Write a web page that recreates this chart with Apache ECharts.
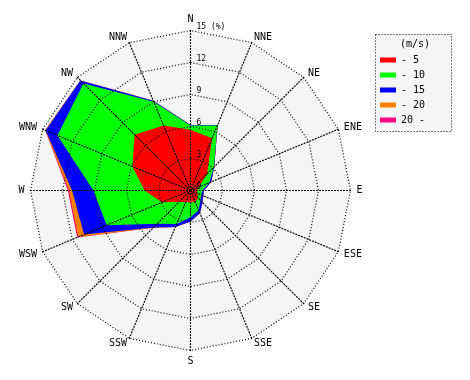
<!DOCTYPE html>
<html>
<head>
<meta charset="utf-8">
<script src="https://cdn.jsdelivr.net/npm/echarts@6/dist/echarts.min.js"></script>
<style>html,body{margin:0;padding:0;background:#fff;}#c{width:470px;height:380px;}</style>
</head>
<body>
<div id="c"></div>
<script>
// compass directions, clockwise from north
var directions = ['N','NNE','NE','ENE','E','ESE','SE','SSE','S','SSW','SW','WSW','W','WNW','NW','NNW'];
// frequency (%) per speed class and direction (same order as directions)
var spd0to5   = [5.7, 5.3, 2.2, 0.8, 0.6, 0.7, 1.0, 1.2, 1.1, 1.2, 1.5, 2.9, 4.3, 5.9, 7.4, 6.6];
var spd5to10  = [0.4, 1.3, 0.9, 1.1, 0.5, 0.4, 0.3, 0.8, 1.4, 2.2, 2.9, 5.6, 4.8, 7.6, 6.8, 2.4];
var spd10to15 = [0.05,0.05,0.05,0.2, 0.15,0.2, 0.3, 0.3, 0.4, 0.3, 0.5, 2.3, 2.0, 1.2, 0.4, 0.1];
var spd15to20 = [0,   0,   0,   0,   0,   0,   0,   0,   0,   0,   0.05,0.6, 0.3, 0.05,0,   0];
var spd20up   = [0,   0,   0,   0,   0,   0,   0,   0,   0,   0,   0,   0.1, 0.1, 0,   0,   0];
var classNames  = ['- 5', '- 10', '- 15', '- 20', '20 -'];
var classColors = ['#ff0000', '#00ff00', '#0000ff', '#ff8000', '#ff0080'];
var radialTicks = [0, 3, 6, 9, 12, 15];
var radialMax = 15;
var radialUnit = '(%)';
var legendTitle = '(m/s)';

var classes = [spd0to5, spd5to10, spd10to15, spd15to20, spd20up];
// cumulative (stacked) totals
var cum = [];
var run = directions.map(function(){return 0;});
classes.forEach(function(arr){
  run = run.map(function(v,i){return v + arr[i];});
  cum.push(run.slice());
});
// radar places indicators counter-clockwise: reorder
var ccwIdx = [0];
for (var k = directions.length - 1; k >= 1; k--) ccwIdx.push(k);
function ccw(arr){ return ccwIdx.map(function(i){return arr[i];}); }

var FONT = 'DejaVu Sans Mono';
var CX = 190.5, CY = 190.5, R = 160;
var indicator = ccw(directions).map(function(d){ return {name:d, min:0, max:radialMax}; });
var dotted = {color:'#000', width:1.2, type:[1,2]};

var series = [];
for (var c = classes.length - 1; c >= 0; c--) {
  series.push({
    type:'radar', name: classNames[c], radarIndex:0, z:2,
    symbol:'none', silent:true,
    lineStyle:{width:0, opacity:0, color: classColors[c]},
    itemStyle:{color: classColors[c]},
    areaStyle:{color: classColors[c], opacity:1},
    data:[{value: ccw(cum[c]), name: classNames[c]}]
  });
}

var chart = echarts.init(document.getElementById('c'));
chart.setOption({
  animation:false,
  backgroundColor:'#ffffff',
  title:{text:legendTitle, left:400, top:39, padding:0,
    textStyle:{fontFamily:FONT, fontSize:10, fontWeight:'normal', color:'#000'}},
  legend:{
    data: classNames.slice(), orient:'vertical', left:380, top:55, padding:0,
    itemWidth:16, itemHeight:5, itemGap:5, icon:'rect', selectedMode:false, z:10,
    textStyle:{fontFamily:FONT, fontSize:10, color:'#000'}
  },
  graphic:[{type:'rect', left:375, top:34, z:1, shape:{width:76, height:97},
    style:{fill:'#f5f5f5', stroke:'#000', lineWidth:1, lineDash:[1,2]}}],
  radar:[{
    center:[CX,CY], radius:R, startAngle:90, shape:'polygon', splitNumber:5,
    indicator: indicator, z:0,
    axisName:{show:false}, axisLine:{show:false}, splitLine:{show:false},
    splitArea:{show:true, areaStyle:{color:['#f5f5f5']}}
  },{
    center:[CX,CY], radius:R, startAngle:90, shape:'polygon', splitNumber:5,
    indicator: indicator, z:5, nameGap:6,
    axisName:{show:true, color:'#000', fontFamily:FONT, fontSize:10},
    axisLine:{lineStyle:dotted}, splitLine:{lineStyle:dotted},
    splitArea:{show:false}
  }],
  polar:{center:[CX,CY], radius:R},
  angleAxis:{type:'value', min:0, max:360, startAngle:90, show:false},
  radiusAxis:{type:'value', min:0, max:radialMax, interval:radialTicks[1]-radialTicks[0], z:6,
    axisLine:{show:false}, axisTick:{show:false}, splitLine:{show:false},
    axisLabel:{show:true, fontFamily:FONT, fontSize:8, color:'#000', align:'left', verticalAlign:'bottom', margin:-6,
      formatter:function(v){ return v === radialMax ? v + ' ' + radialUnit : String(v); }}
  },
  series: series
});
</script>
</body>
</html>
